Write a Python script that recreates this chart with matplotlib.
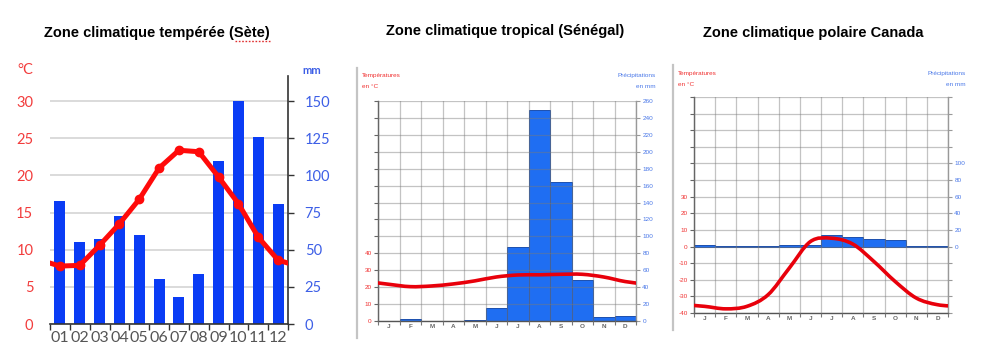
import numpy as np
import matplotlib
matplotlib.use('Agg')
import matplotlib.pyplot as plt
from matplotlib.path import Path
from matplotlib.patches import PathPatch
from matplotlib.lines import Line2D

W, H = 984, 348

# Sete (temperate)
sete_months = ['01', '02', '03', '04', '05', '06', '07', '08', '09', '10', '11', '12']
sete_temp = [7.8, 7.9, 10.6, 13.5, 16.8, 21.0, 23.4, 23.2, 19.8, 16.2, 11.7, 8.6]
sete_rain = [83, 55, 57, 73, 60, 30, 18, 34, 110, 150, 126, 81]

# Senegal (tropical) and Canada (polar)
month_letters = ['J', 'F', 'M', 'A', 'M', 'J', 'J', 'A', 'S', 'O', 'N', 'D']
senegal_temp = [21.7, 20.3, 20.7, 21.9, 23.7, 26.0, 27.2, 27.3, 27.6, 27.6, 26.0, 23.3]
senegal_rain = [0, 2, 0, 0, 1, 15, 88, 249, 164, 49, 5, 6]
canada_temp = [-36, -37.5, -36, -29, -13, 3, 5, 1.5, -9, -21, -31, -35]
canada_rain = [2, 1, 1, 1, 2, 2, 14, 12, 9, 8, 1, 1]

RED = '#e8000b'
BLUE_BAR = '#1f6ef2'
SANS = 'Liberation Sans'


def rect(l, t, r, b):
    return [l / W, 1 - b / H, (r - l) / W, (b - t) / H]


def smooth_path(xs, ys):
    # catmull-rom through the monthly points, as cubic bezier segments
    pts = np.column_stack([xs, ys]).astype(float)
    verts = [pts[0]]
    codes = [Path.MOVETO]
    n = len(pts)
    for i in range(n - 1):
        p0 = pts[max(i - 1, 0)]
        p1 = pts[i]
        p2 = pts[i + 1]
        p3 = pts[min(i + 2, n - 1)]
        verts += [p1 + (p2 - p0) / 6, p2 - (p3 - p1) / 6, p2]
        codes += [Path.CURVE4] * 3
    return Path(verts, codes)


fig = plt.figure(figsize=(W / 100, H / 100), dpi=100)
px = fig.dpi_scale_trans.inverted()  # unused helper kept simple below
to_fig = lambda x, y: (x / W, 1 - y / H)

x = np.arange(12)
x_wrap = np.arange(-1, 13)

# ---------------- panel 1 : Sete ----------------
ax1 = fig.add_axes(rect(50, 76, 288, 324))
tw1 = ax1.twinx()
ax1.set_zorder(tw1.get_zorder() + 1)
ax1.patch.set_visible(False)

tw1.bar(x, sete_rain, width=0.55, color='#0a3cf5', zorder=2)
tw1.set_ylim(0, 167)
tw1.set_yticks(np.arange(0, 151, 25))
tw1.set_axisbelow(True)
tw1.yaxis.grid(True, color='#d4d4d4', lw=1.2)
tw1.tick_params(axis='y', length=4, width=1, color='#333', pad=8,
                labelcolor='#3d5fe6', labelsize=10.5)
for lab in tw1.get_yticklabels():
    lab.set_family('Lato')

t_wrap = [sete_temp[-1]] + sete_temp + [sete_temp[0]]
ax1.plot(x_wrap, t_wrap, color='#ff0a0a', lw=3.6, marker='o', ms=6,
         solid_joinstyle='round', zorder=3)
ax1.set_ylim(0, 33.4)
ax1.set_xlim(-0.5, 11.5)
ax1.set_yticks(np.arange(0, 31, 5))
ax1.tick_params(axis='y', length=0, pad=12, labelcolor='#f23c3c', labelsize=10.5)
ax1.set_xticks(np.arange(-0.5, 12, 1))
ax1.set_xticklabels([])
ax1.set_xticks(x, minor=True)
ax1.set_xticklabels(sete_months, minor=True)
ax1.tick_params(axis='x', which='major', length=4, width=1, color='#333')
ax1.tick_params(axis='x', which='minor', length=0, pad=5, labelsize=11.5,
                labelcolor='#555555')
for lab in ax1.get_yticklabels() + ax1.get_xticklabels(minor=True):
    lab.set_family('Lato')

for s in ['left', 'top', 'right']:
    ax1.spines[s].set_visible(False)
ax1.spines['bottom'].set_color('#333')
ax1.spines['bottom'].set_linewidth(1.2)
for s in ['left', 'top', 'bottom']:
    tw1.spines[s].set_visible(False)
tw1.spines['right'].set_color('#333')
tw1.spines['right'].set_linewidth(1.2)

fig.text(*to_fig(25, 70), '°C', color='#f23c3c', fontsize=10.5, ha='center',
         va='center', family='Lato')
fig.text(*to_fig(312, 70), 'mm', color='#3d5fe6', fontsize=8, ha='center',
         va='center', family='Lato', weight='bold')
fig.text(*to_fig(157, 33), 'Zone climatique tempérée (Sète)', fontsize=10.5,
         weight='bold', family=SANS, ha='center', va='center')
fig.add_artist(Line2D([235 / W, 270 / W], [1 - 40.5 / H, 1 - 40.5 / H],
                      color='#e03030', lw=1, ls=(0, (1.2, 1.2))))


# ---------------- panels 2 and 3 : climate diagrams ----------------
def diagram(box, temp, rain, t_lim, r_lim, t_labels, r_labels, month_pad):
    ax = fig.add_axes(rect(*box))
    tw = ax.twinx()
    ax.set_zorder(tw.get_zorder() + 1)
    ax.patch.set_visible(False)

    tw.bar(x, rain, width=1.0, color=BLUE_BAR, edgecolor='#1c4fae', lw=0.7)
    tw.set_ylim(*r_lim)
    r_ticks = np.arange(r_lim[0], r_lim[1] + 1, 20)
    tw.set_yticks(r_ticks)
    tw.set_yticklabels([str(v) if v in r_labels else '' for v in r_ticks])
    tw.tick_params(axis='y', length=3, width=0.8, color='#999', pad=1.5,
                   labelsize=4.6, labelcolor='#4a78e8')

    ys = [temp[-1]] + temp + [temp[0]]
    ax.add_patch(PathPatch(smooth_path(x_wrap, ys), fill=False, edgecolor=RED,
                           lw=2.6, zorder=4, capstyle='round'))
    ax.set_xlim(-0.5, 11.5)
    ax.set_ylim(*t_lim)
    t_ticks = np.arange(t_lim[0], t_lim[1] + 1, 10)
    ax.set_yticks(t_ticks)
    ax.set_yticklabels([str(v) if v in t_labels else '' for v in t_ticks])
    ax.tick_params(axis='y', length=3, width=0.8, color='#666', pad=1.5,
                   labelsize=4.6, labelcolor='#f03030')

    ax.set_xticks(np.arange(-0.5, 12, 1))
    ax.set_xticklabels([])
    ax.set_xticks(x, minor=True)
    ax.set_xticklabels(month_letters, minor=True)
    ax.tick_params(axis='x', which='major', length=3, width=0.8, color='#777')
    ax.tick_params(axis='x', which='minor', length=0, pad=month_pad,
                   labelsize=4.6, labelcolor='#666666')

    ax.set_axisbelow(False)
    ax.grid(True, which='major', color='#7a7a7a', alpha=0.45, lw=0.9)

    for lab in ax.get_yticklabels() + ax.get_xticklabels(minor=True) + tw.get_yticklabels():
        lab.set_family(SANS)
    for lab in ax.get_xticklabels(minor=True):
        lab.set_weight('bold')

    ax.spines['top'].set_visible(False)
    tw.spines['top'].set_visible(False)
    ax.spines['right'].set_visible(False)
    tw.spines['left'].set_visible(False)
    tw.spines['bottom'].set_visible(False)
    ax.spines['left'].set_color('#555')
    ax.spines['left'].set_linewidth(1.0)
    ax.spines['bottom'].set_color('#555')
    ax.spines['bottom'].set_linewidth(1.0)
    tw.spines['right'].set_color('#999')
    tw.spines['right'].set_linewidth(1.0)
    return ax


diagram((378, 101, 636, 321), senegal_temp, senegal_rain, (0, 130), (0, 260),
        [0, 10, 20, 30, 40], list(range(0, 261, 20)), 2.5)
diagram((694, 97, 948, 313), canada_temp, canada_rain, (-40, 90), (-80, 180),
        [-40, -30, -20, -10, 0, 10, 20, 30], [0, 20, 40, 60, 80, 100], 2.5)

fig.text(*to_fig(505, 31), 'Zone climatique tropical (Sénégal)', fontsize=10.5,
         weight='bold', family=SANS, ha='center', va='center')
fig.text(*to_fig(813, 33), 'Zone climatique polaire Canada', fontsize=10.5,
         weight='bold', family=SANS, ha='center', va='center')

small = dict(fontsize=4.6, family=SANS, va='center')
fig.text(*to_fig(362, 76), 'Températures', color='#f03030', ha='left', **small)
fig.text(*to_fig(362, 87), 'en °C', color='#f03030', ha='left', **small)
fig.text(*to_fig(656, 76), 'Précipitations', color='#4a78e8', ha='right', **small)
fig.text(*to_fig(656, 87), 'en mm', color='#4a78e8', ha='right', **small)

fig.text(*to_fig(678, 73), 'Températures', color='#f03030', ha='left', **small)
fig.text(*to_fig(678, 84), 'en °C', color='#f03030', ha='left', **small)
fig.text(*to_fig(966, 73), 'Précipitations', color='#4a78e8', ha='right', **small)
fig.text(*to_fig(966, 84), 'en mm', color='#4a78e8', ha='right', **small)

# grey frame edges of the pasted diagrams
fig.add_artist(Line2D([357 / W, 357 / W], [1 - 68 / H, 1 - 338 / H],
                      color='#c4c4c4', lw=1.6))
fig.add_artist(Line2D([673 / W, 673 / W], [1 - 65 / H, 1 - 330 / H],
                      color='#c4c4c4', lw=1.6))

fig.savefig('out.png', dpi=100, facecolor='white')
